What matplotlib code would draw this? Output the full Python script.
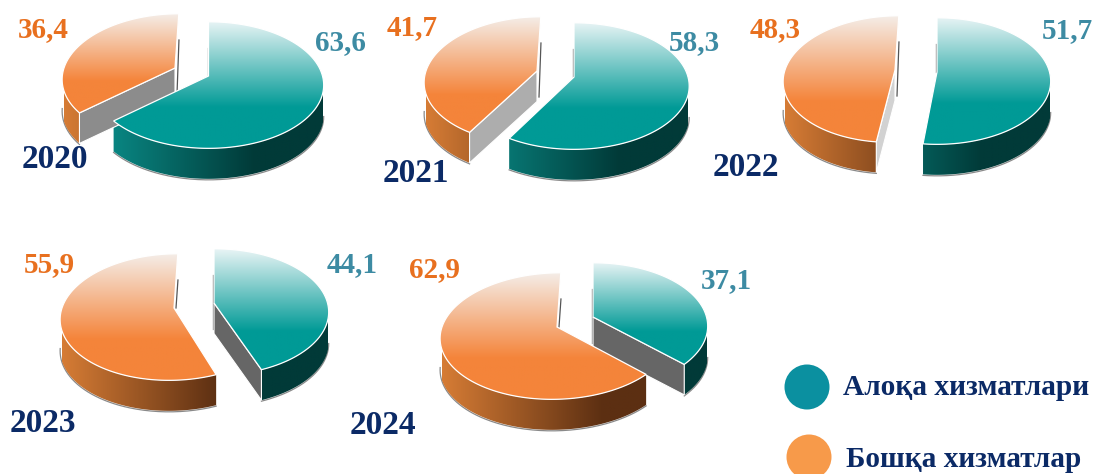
import numpy as np
import matplotlib
matplotlib.use("Agg")
import matplotlib.pyplot as plt
from matplotlib.patches import Polygon, Circle
from matplotlib.colors import LinearSegmentedColormap as LSC

# ---- data ----
years = ["2020", "2021", "2022", "2023", "2024"]
communication = [63.6, 58.3, 51.7, 44.1, 37.1]
other = [36.4, 41.7, 48.3, 55.9, 62.9]
legend_labels = ["Алоқа хизматлари", "Бошқа хизматлар"]

# ---- layout (pixel space of the figure) ----
W, H = 1094, 474
teal_apex = [(208.5, 76), (574, 77), (937, 72), (214, 303), (593, 317)]
orange_apex = [(175, 68), (537, 71), (895, 70), (174, 308), (557, 327)]
teal_rx = [114, 114, 112.5, 113.5, 113.5]
orange_rx = [111, 111, 110, 112, 115]
year_pos = [(55, 168), (416, 182), (746, 176), (42.5, 432), (383, 434)]
teal_label_pos = [(340, 50), (694, 50), (1067, 38), (352, 272), (726, 288)]
orange_label_pos = [(43, 37), (412, 35), (775, 37), (49.5, 272), (435, 277)]
cut_grey = ["#8c8c8c", "#adadad", "#d2d2d2", "#666666", "#666666"]
RY, K, DEPTH, SHEAR = 62.0, 0.143, 30.5, 0.07

NAVY = "#0b2a66"
SERIF = "Liberation Serif"
teal_top = LSC.from_list("tt", [(0, "#e8f4f5"), (.68, "#009a96"), (1, "#009a96")])
orange_top = LSC.from_list("ot", [(0, "#f5eee9"), (.68, "#f4843a"), (1, "#f4843a")])
teal_wall = LSC.from_list("tw", [(0, "#0a8f8b"), (.7, "#013a38"), (1, "#013a38")])
orange_wall = LSC.from_list("ow", [(0, "#d67c35"), (.7, "#5c2f12"), (1, "#5c2f12")])

fig = plt.figure(figsize=(W / 100, H / 100), dpi=100)
ax = fig.add_axes([0, 0, 1, 1])
ax.set_axis_off()


def rim(apex, rx, deg, shear):
    """Project rim angles (clockwise from 12 o'clock) with a perspective tilt."""
    t = np.radians(deg)
    u, v = np.sin(t), np.cos(t)
    w = 1 + K * v
    x, y = rx * u / w, -RY * v / w
    return apex[0] + x + shear * -y, apex[1] + y


def gradient(poly, cmap, vertical, lo, hi, z):
    """Fill a polygon with a linear gradient along x or y between lo and hi."""
    ramp = np.linspace(0, 1, 256)
    img = ramp[:, None] if vertical else ramp[None, :]
    ext = (poly[:, 0].min() - 1, poly[:, 0].max() + 1, hi, lo) if vertical else \
          (lo, hi, poly[:, 1].max() + 1, poly[:, 1].min() - 1)
    im = ax.imshow(img, cmap=cmap, extent=ext, aspect="auto", zorder=z,
                   interpolation="bilinear", vmin=0, vmax=1, origin="upper")
    patch = Polygon(poly, closed=True, transform=ax.transData, fc="none", ec="none")
    ax.add_patch(patch)
    im.set_clip_path(patch)


def slice3d(apex, rx, a0, a1, top_cmap, wall_cmap, grey, shear, is_teal):
    ang = np.linspace(a0, a1, 240)
    rx_pts, ry_pts = rim(apex, rx, ang, shear)
    top = np.column_stack([np.r_[apex[0], rx_pts], np.r_[apex[1], ry_pts]])

    # wall: only the part of the rim facing the viewer
    f0 = np.degrees(np.arccos(-K))
    f1 = 360 - f0
    lo, hi = max(a0, f0), min(a1, f1)
    left = apex[0] - rx
    if hi > lo:
        wa = np.linspace(lo, hi, 160)
        wx, wy = rim(apex, rx, wa, shear)
        wall = np.column_stack([np.r_[wx, wx[::-1]], np.r_[wy, wy[::-1] + DEPTH]])
        gradient(wall, wall_cmap, False, left, apex[0] + rx, 2)
        ax.plot(wx, wy + DEPTH + 1, color="#8a8a8a", lw=0.9, zorder=1.5)

    # cut face turned towards the viewer
    edge = a1 if is_teal else a0
    visible = edge < 180 if is_teal else edge > 180
    ex, ey = rim(apex, rx, edge, shear)
    bx = apex[0] + (-1 if is_teal else shear * 28 + 2)
    ax.plot([bx, bx if is_teal else apex[0] + 2],
            [apex[1] - 28, apex[1] + (26 if visible else 0)],
            color="#555555", lw=0.9, zorder=1)
    if visible:
        face = np.array([apex, (ex, ey), (ex, ey + DEPTH),
                         (apex[0], apex[1] + DEPTH)])
        ax.add_patch(Polygon(face, closed=True, fc=grey, ec="white", lw=0.8, zorder=3))

    gradient(top, top_cmap, True, top[:, 1].min(), top[:, 1].max(), 4)
    ax.add_patch(Polygon(top, closed=True, fc="none", ec="white", lw=0.9, zorder=5))


for i in range(len(years)):
    split = communication[i] * 3.6
    slice3d(teal_apex[i], teal_rx[i], 0, split, teal_top, teal_wall, cut_grey[i], 0.0, True)
    slice3d(orange_apex[i], orange_rx[i], split, 360, orange_top, orange_wall, cut_grey[i], SHEAR, False)
    fmt = lambda v: f"{v:.1f}".replace(".", ",")
    ax.text(*teal_label_pos[i], fmt(communication[i]), color="#3d8ba3", family=SERIF,
            weight="bold", fontsize=21, ha="center", va="baseline", zorder=6)
    ax.text(*orange_label_pos[i], fmt(other[i]), color="#e8701f", family=SERIF,
            weight="bold", fontsize=21, ha="center", va="baseline", zorder=6)
    ax.text(*year_pos[i], years[i], color=NAVY, family=SERIF, weight="bold",
            fontsize=24, ha="center", va="baseline", zorder=6)

# legend
ax.add_patch(Circle((807, 387), 22.5, fc="#0b90a0", ec="none"))
ax.add_patch(Circle((809, 457), 22.5, fc="#f79a4a", ec="none"))
ax.text(843, 395, legend_labels[0], color=NAVY, family=SERIF, weight="bold",
        fontsize=21.2, ha="left", va="baseline")
ax.text(846, 467, legend_labels[1], color=NAVY, family=SERIF, weight="bold",
        fontsize=21.1, ha="left", va="baseline")

ax.set_xlim(0, W)
ax.set_ylim(H, 0)
fig.savefig("out.png", dpi=100, facecolor="white")
